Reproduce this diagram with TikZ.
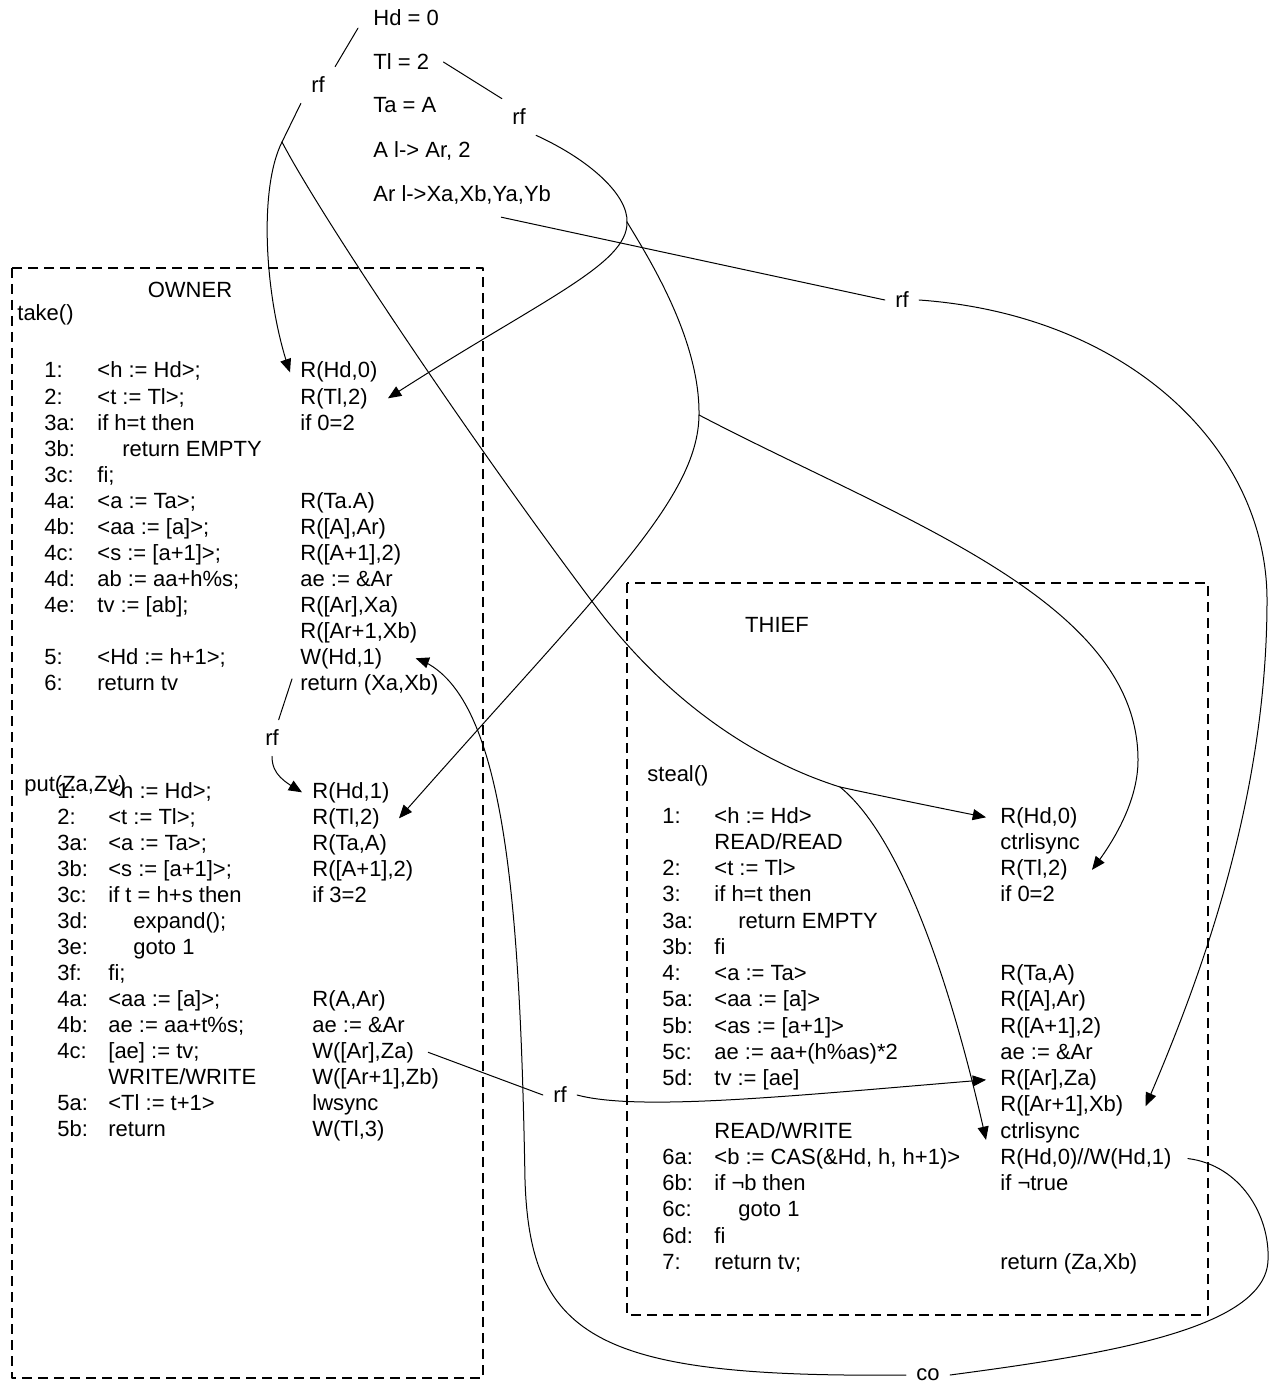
\documentclass[tikz,border=0pt]{standalone}
\usepackage{fontspec}
\setmainfont{Liberation Sans}
\usetikzlibrary{arrows}

\begin{document}
\begin{tikzpicture}[x=0.5pt,y=-0.5pt,line cap=round,line join=round,>=triangle 45,
  every node/.style={font=\fontsize{11}{13}\selectfont},
  code/.style={anchor=base west,inner sep=0pt},
  lbl/.style={inner sep=5pt},
  box/.style={dash pattern=on 5pt off 3pt,line width=0.7pt,line cap=butt},
  link/.style={line width=0.5pt}]
\useasboundingbox (0,0) rectangle (1275,1385);

\node[code] (hd) at (373,26) {Hd = 0};
\node[code] (tl) at (373,70) {Tl = 2};
\node[code] (ta) at (373,113) {Ta = A};
\node[code] (aa) at (373,158) {A l-> Ar, 2};
\node[code] (ar) at (373,202) {Ar l->Xa,Xb,Ya,Yb};

\draw[box] (12,268) rectangle (483,1378);
\node (owner) at (190,290) {OWNER};
\node[code] (take) at (17,321) {take()};
\node[code] (tn0) at (44,378) {1:};
\node[code] (tc0) at (97,378) {<h := Hd>;};
\node[code] (tr0) at (300,378) {R(Hd,0)};
\node[code] (tn1) at (44,404) {2:};
\node[code] (tc1) at (97,404) {<t := Tl>;};
\node[code] (tr1) at (300,404) {R(Tl,2)};
\node[code] (tn2) at (44,430) {3a:};
\node[code] (tc2) at (97,430) {if h=t then};
\node[code] (tr2) at (300,430) {if 0=2};
\node[code] (tn3) at (44,456) {3b:};
\node[code] (tc3) at (122,456) {return EMPTY};
\node[code] (tn4) at (44,482) {3c:};
\node[code] (tc4) at (97,482) {fi;};
\node[code] (tn5) at (44,508) {4a:};
\node[code] (tc5) at (97,508) {<a := Ta>;};
\node[code] (tr5) at (300,508) {R(Ta.A)};
\node[code] (tn6) at (44,534) {4b:};
\node[code] (tc6) at (97,534) {<aa := [a]>;};
\node[code] (tr6) at (300,534) {R([A],Ar)};
\node[code] (tn7) at (44,560) {4c:};
\node[code] (tc7) at (97,560) {<s := [a+1]>;};
\node[code] (tr7) at (300,560) {R([A+1],2)};
\node[code] (tn8) at (44,586) {4d:};
\node[code] (tc8) at (97,586) {ab := aa+h\%s;};
\node[code] (tr8) at (300,586) {ae := \&Ar};
\node[code] (tn9) at (44,612) {4e:};
\node[code] (tc9) at (97,612) {tv := [ab];};
\node[code] (tr9) at (300,612) {R([Ar],Xa)};
\node[code] (tr10) at (300,638) {R([Ar+1,Xb)};
\node[code] (tn11) at (44,664) {5:};
\node[code] (tc11) at (97,664) {<Hd := h+1>;};
\node[code] (tr11) at (300,664) {W(Hd,1)};
\node[code] (tn12) at (44,690) {6:};
\node[code] (tc12) at (97,690) {return tv};
\node[code] (tr12) at (300,690) {return (Xa,Xb)};

\node[code] (put) at (24,791) {put(Za,Zv)};
\node[code] (pn0) at (57,798) {1:};
\node[code] (pc0) at (108,798) {<h := Hd>;};
\node[code] (pr0) at (312,798) {R(Hd,1)};
\node[code] (pn1) at (57,824) {2:};
\node[code] (pc1) at (108,824) {<t := Tl>;};
\node[code] (pr1) at (312,824) {R(Tl,2)};
\node[code] (pn2) at (57,850) {3a:};
\node[code] (pc2) at (108,850) {<a := Ta>;};
\node[code] (pr2) at (312,850) {R(Ta,A)};
\node[code] (pn3) at (57,876) {3b:};
\node[code] (pc3) at (108,876) {<s := [a+1]>;};
\node[code] (pr3) at (312,876) {R([A+1],2)};
\node[code] (pn4) at (57,902) {3c:};
\node[code] (pc4) at (108,902) {if t = h+s then};
\node[code] (pr4) at (312,902) {if 3=2};
\node[code] (pn5) at (57,928) {3d:};
\node[code] (pc5) at (133,928) {expand();};
\node[code] (pn6) at (57,954) {3e:};
\node[code] (pc6) at (133,954) {goto 1};
\node[code] (pn7) at (57,980) {3f:};
\node[code] (pc7) at (108,980) {fi;};
\node[code] (pn8) at (57,1006) {4a:};
\node[code] (pc8) at (108,1006) {<aa := [a]>;};
\node[code] (pr8) at (312,1006) {R(A,Ar)};
\node[code] (pn9) at (57,1032) {4b:};
\node[code] (pc9) at (108,1032) {ae := aa+t\%s;};
\node[code] (pr9) at (312,1032) {ae := \&Ar};
\node[code] (pn10) at (57,1058) {4c:};
\node[code] (pc10) at (108,1058) {[ae] := tv;};
\node[code] (pr10) at (312,1058) {W([Ar],Za)};
\node[code] (pc11) at (108,1084) {WRITE/WRITE};
\node[code] (pr11) at (312,1084) {W([Ar+1],Zb)};
\node[code] (pn12) at (57,1110) {5a:};
\node[code] (pc12) at (108,1110) {<Tl := t+1>};
\node[code] (pr12) at (312,1110) {lwsync};
\node[code] (pn13) at (57,1136) {5b:};
\node[code] (pc13) at (108,1136) {return};
\node[code] (pr13) at (312,1136) {W(Tl,3)};

\draw[box] (627,583) rectangle (1208,1315);
\node (thief) at (777,625) {THIEF};
\node[code] (steal) at (647,781) {steal()};
\node[code] (sn0) at (662,823) {1:};
\node[code] (sc0) at (714,823) {<h := Hd>};
\node[code] (sr0) at (1000,823) {R(Hd,0)};
\node[code] (sc1) at (714,849.25) {READ/READ};
\node[code] (sr1) at (1000,849.25) {ctrlisync};
\node[code] (sn2) at (662,875.5) {2:};
\node[code] (sc2) at (714,875.5) {<t := Tl>};
\node[code] (sr2) at (1000,875.5) {R(Tl,2)};
\node[code] (sn3) at (662,901.75) {3:};
\node[code] (sc3) at (714,901.75) {if h=t then};
\node[code] (sr3) at (1000,901.75) {if 0=2};
\node[code] (sn4) at (662,928) {3a:};
\node[code] (sc4) at (738,928) {return EMPTY};
\node[code] (sn5) at (662,954.25) {3b:};
\node[code] (sc5) at (714,954.25) {fi};
\node[code] (sn6) at (662,980.5) {4:};
\node[code] (sc6) at (714,980.5) {<a := Ta>};
\node[code] (sr6) at (1000,980.5) {R(Ta,A)};
\node[code] (sn7) at (662,1006.75) {5a:};
\node[code] (sc7) at (714,1006.75) {<aa := [a]>};
\node[code] (sr7) at (1000,1006.75) {R([A],Ar)};
\node[code] (sn8) at (662,1033) {5b:};
\node[code] (sc8) at (714,1033) {<as := [a+1]>};
\node[code] (sr8) at (1000,1033) {R([A+1],2)};
\node[code] (sn9) at (662,1059.25) {5c:};
\node[code] (sc9) at (714,1059.25) {ae := aa+(h\%as)*2};
\node[code] (sr9) at (1000,1059.25) {ae := \&Ar};
\node[code] (sn10) at (662,1085.5) {5d:};
\node[code] (sc10) at (714,1085.5) {tv := [ae]};
\node[code] (sr10) at (1000,1085.5) {R([Ar],Za)};
\node[code] (sr11) at (1000,1111.75) {R([Ar+1],Xb)};
\node[code] (sc12) at (714,1138) {READ/WRITE};
\node[code] (sr12) at (1000,1138) {ctrlisync};
\node[code] (sn13) at (662,1164.25) {6a:};
\node[code] (sc13) at (714,1164.25) {<b := CAS(\&Hd, h, h+1)>};
\node[code] (sr13) at (1000,1164.25) {R(Hd,0)//W(Hd,1)};
\node[code] (sn14) at (662,1190.5) {6b:};
\node[code] (sc14) at (714,1190.5) {if ¬b then};
\node[code] (sr14) at (1000,1190.5) {if ¬true};
\node[code] (sn15) at (662,1216.75) {6c:};
\node[code] (sc15) at (738,1216.75) {goto 1};
\node[code] (sn16) at (662,1243) {6d:};
\node[code] (sc16) at (714,1243) {fi};
\node[code] (sn17) at (662,1269.25) {7:};
\node[code] (sc17) at (714,1269.25) {return tv;};
\node[code] (sr17) at (1000,1269.25) {return (Za,Xb)};

\node[lbl] (rfHd) at (318,85) {rf};
\node[lbl] (rfTl) at (519,117) {rf};
\node[lbl] (rfAr) at (902,300) {rf};
\node[lbl] (rfW) at (272,738) {rf};
\node[lbl] (rfZa) at (560,1095) {rf};
\node[lbl] (coHd) at (928,1375) {co};

\coordinate (hdFork) at (282,142);
\coordinate (hdFork2) at (840,787);
\coordinate (tlFork) at (627,222);
\coordinate (tlFork2) at (699,415);

\draw[link] ([xshift=-7.5pt,yshift=-5pt]hd.west) -- (rfHd.north east);
\draw[link] (rfHd.south west) -- (hdFork);
\draw[link,->] (hdFork) .. controls (258,190) and (265,300) .. ([xshift=-5pt]tr0.west);
\draw[link] (hdFork) .. controls (320,215) and (470,440) .. (600,612) .. controls (680,715) and (770,765) .. (hdFork2);
\draw[link,->] (hdFork2) .. controls (900,800) and (940,808) .. ([xshift=-7pt]sr0.west);
\draw[link,->] (hdFork2) .. controls (905,840) and (955,1000) .. ([xshift=-7pt,yshift=4pt]sr13.north west);

\draw[link] ([xshift=7pt]tl.east) -- (rfTl.north west);
\draw[link] (rfTl.south east) .. controls (590,160) and (628,195) .. (tlFork);
\draw[link,->] (tlFork) .. controls (628,265) and (540,300) .. ([xshift=10pt]tr1.east);
\draw[link] (tlFork) .. controls (650,260) and (700,340) .. (tlFork2);
\draw[link,->] (tlFork2) .. controls (900,520) and (1138,600) .. (1138,760) .. controls (1138,800) and (1115,840) .. ([xshift=12pt]sr2.east);
\draw[link,->] (tlFork2) .. controls (698,500) and (600,590) .. ([xshift=9.5pt]pr1.east);

\draw[link] ([xshift=-25pt,yshift=-6pt]ar.south east) -- (rfAr.west);
\draw[link,->] (rfAr.east) .. controls (1130,315) and (1267,450) .. (1267,600) .. controls (1267,800) and (1200,980) .. ([xshift=11pt]sr11.east);

\draw[link] ([xshift=-4pt,yshift=-5pt]tr11.south west) -- (rfW.70);
\draw[link,->] (rfW.south) .. controls (272,775) and (285,782) .. ([xshift=-5pt]pr0.west);

\draw[link] ([xshift=7pt]pr10.east) -- (rfZa.west);
\draw[link,->] (rfZa.east) .. controls (640,1112) and (800,1095) .. ([xshift=-7pt]sr10.west);

\draw[link] ([xshift=8pt]sr13.east) .. controls (1240,1165) and (1270,1215) .. (1268,1260) .. controls (1266,1330) and (1100,1355) .. (coHd.east);
\draw[link,->] (coHd.west) .. controls (600,1378) and (530,1340) .. (525,1180) .. controls (520,900) and (505,690) .. ([xshift=16.5pt]tr11.east);
\end{tikzpicture}
\end{document}
